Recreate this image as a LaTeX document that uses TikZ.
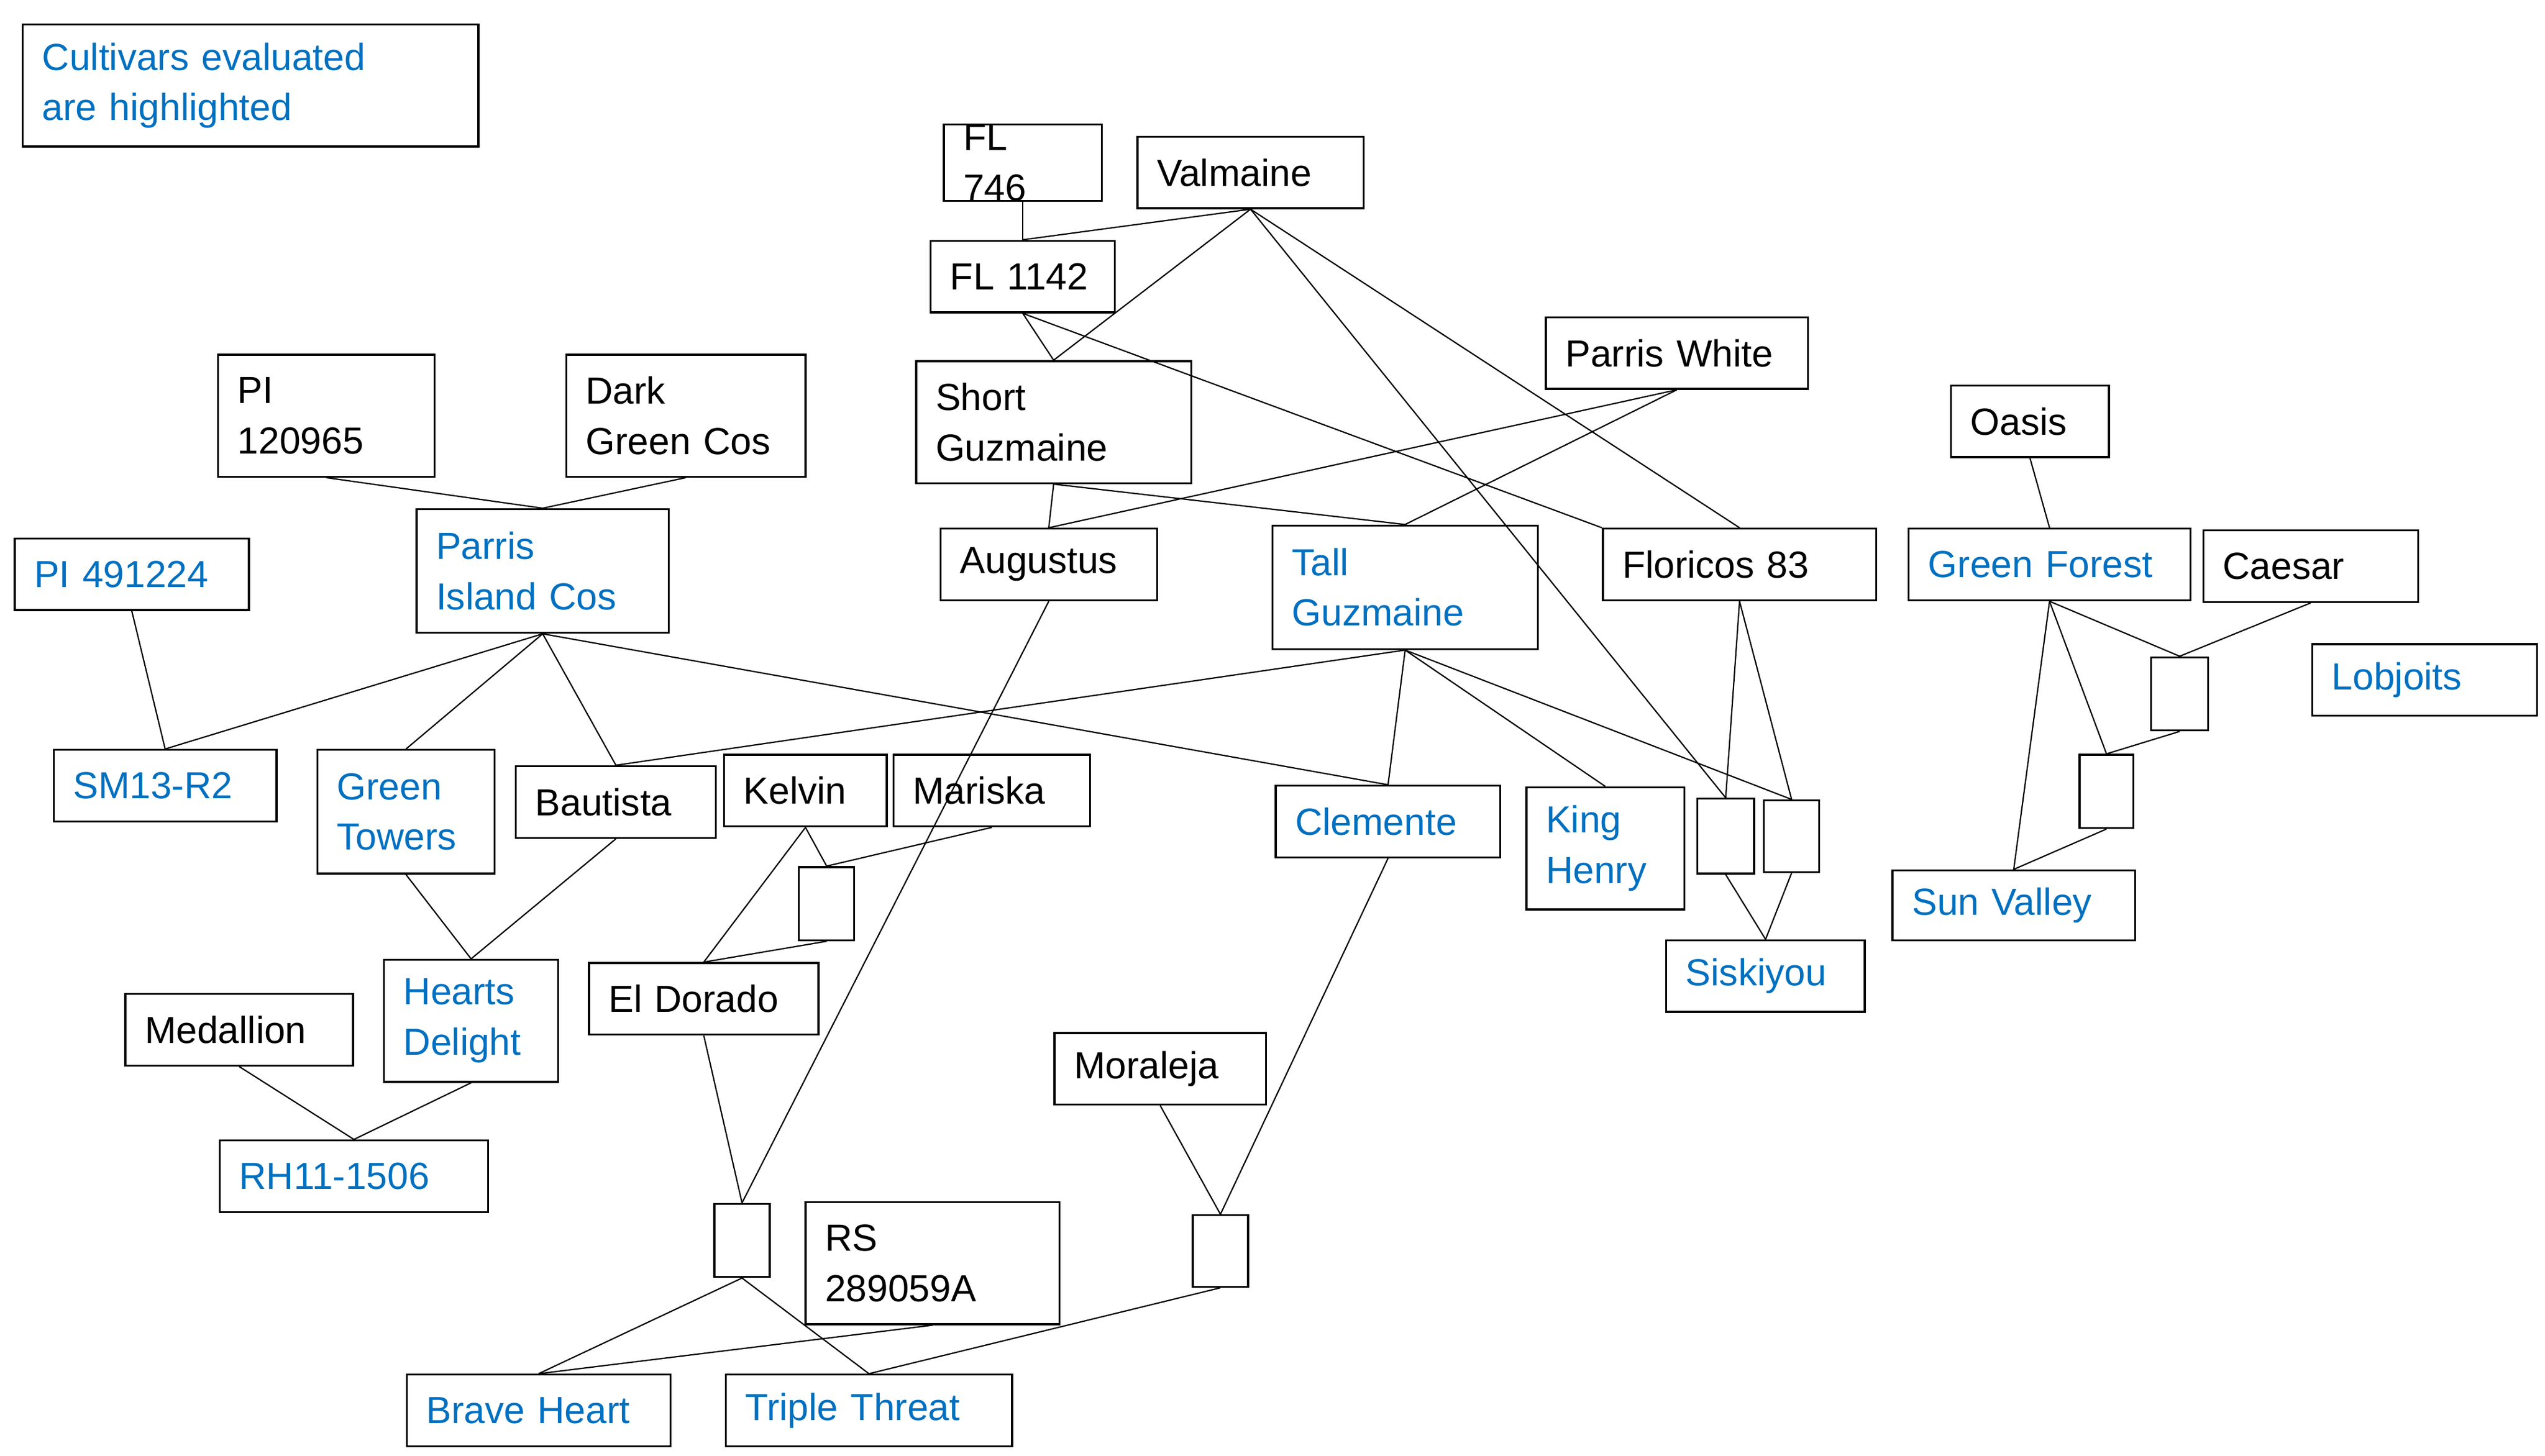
\documentclass[tikz,border=0pt]{standalone}
\usepackage{fontspec}
\setmainfont{Liberation Sans}
\definecolor{cblue}{HTML}{0070C0}
\tikzset{
 box/.style={draw=black,line width=0.6mm,rectangle,inner xsep=6mm,inner ysep=0mm,align=left,font=\fontsize{33}{44}\selectfont},
 ev/.style={text=cblue},
 nb/.style={text=black},
 con/.style={line width=0.4mm,draw=black}
}
\newcommand\bx[7]{%
 \pgfmathsetmacro\bw{(#4-#2)*0.5}\pgfmathsetmacro\bh{(#5-#3)*0.5}\pgfmathsetmacro\tw{max(1,(#4-#2)*0.5-12)}%
 \node[box,#7,minimum width=\bw mm,minimum height=\bh mm,text width=\tw mm] (#1) at ({(#2+#4)/2},{(#3+#5)/2}) {#6};}
\begin{document}
\begin{tikzpicture}[x=0.5mm,y=-0.5mm]
\useasboundingbox (0,0) rectangle (1564,895);
\bx{leg}{14}{15}{294}{90}{Cultivars evaluated\\are highlighted}{ev}
\bx{fl746}{580}{78}{677}{122}{FL 746}{nb}
\bx{val}{699}{84}{838}{128}{Valmaine}{nb}
\bx{fl1142}{572}{148}{685}{192}{FL 1142}{nb}
\bx{sg}{563}{222}{732}{297}{Short\\Guzmaine}{nb}
\bx{pw}{950}{195}{1111}{239}{Parris White}{nb}
\bx{pi12}{134}{218}{267}{293}{PI\\120965}{nb}
\bx{dgc}{348}{218}{495}{293}{Dark\\Green Cos}{nb}
\bx{pic}{256}{313}{411}{389}{Parris\\Island Cos}{ev}
\bx{pi49}{9}{331}{153}{375}{PI 491224}{ev}
\bx{aug}{578}{325}{711}{369}{Augustus}{nb}
\bx{tg}{782}{323}{945}{399}{Tall\\Guzmaine}{ev}
\bx{flo}{985}{325}{1153}{369}{Floricos 83}{nb}
\bx{oas}{1199}{237}{1296}{281}{Oasis}{nb}
\bx{gf}{1173}{325}{1346}{369}{Green Forest}{ev}
\bx{cae}{1354}{326}{1486}{370}{Caesar}{nb}
\bx{lob}{1421}{396}{1559}{440}{Lobjoits}{ev}
\bx{sm}{33}{461}{170}{505}{SM13-R2}{ev}
\bx{gt}{195}{461}{304}{537}{Green\\Towers}{ev}
\bx{bau}{317}{471}{440}{515}{Bautista}{nb}
\bx{kel}{445}{464}{545}{508}{Kelvin}{nb}
\bx{mar}{549}{464}{670}{508}{Mariska}{nb}
\bx{cle}{784}{483}{922}{527}{Clemente}{ev}
\bx{kh}{938}{484}{1035}{559}{King\\Henry}{ev}
\bx{s1}{1043}{491}{1078}{537}{}{nb}
\bx{s2}{1084}{492}{1118}{536}{}{nb}
\bx{sis}{1024}{578}{1146}{622}{Siskiyou}{ev}
\bx{s3}{1322}{404}{1357}{449}{}{nb}
\bx{s4}{1278}{464}{1311}{509}{}{nb}
\bx{sv}{1163}{535}{1312}{578}{Sun Valley}{ev}
\bx{s5}{491}{533}{525}{578}{}{nb}
\bx{eld}{362}{592}{503}{636}{El Dorado}{nb}
\bx{hd}{236}{590}{343}{665}{Hearts\\Delight}{ev}
\bx{med}{77}{611}{217}{655}{Medallion}{nb}
\bx{rh}{135}{701}{300}{745}{RH11-1506}{ev}
\bx{mor}{648}{635}{778}{679}{Moraleja}{nb}
\bx{s6}{439}{740}{473}{785}{}{nb}
\bx{rs}{495}{739}{651}{814}{RS\\289059A}{nb}
\bx{s7}{733}{747}{767}{791}{}{nb}
\bx{bh}{250}{845}{412}{889}{Brave Heart}{ev}
\bx{tt}{446}{845}{622}{889}{Triple Threat}{ev}
\begin{scope}[con]
\draw (fl746.south) -- (fl1142.north);
\draw (val.south) -- (fl1142.north);
\draw (val.south) -- (sg.north);
\draw (val.south) -- (flo.north);
\draw (val.south) -- (s1.north);
\draw (fl1142.south) -- (sg.north);
\draw (fl1142.south) -- (flo.north west);
\draw (pw.south) -- (aug.north);
\draw (pw.south) -- (tg.north);
\draw (sg.south) -- (aug.north);
\draw (sg.south) -- (tg.north);
\draw (pi12.south) -- (pic.north);
\draw (dgc.south) -- (pic.north);
\draw (pi49.south) -- (sm.north);
\draw (pic.south) -- (sm.north);
\draw (pic.south) -- (gt.north);
\draw (pic.south) -- (bau.north);
\draw (pic.south) -- (cle.north);
\draw (tg.south) -- (bau.north);
\draw (tg.south) -- (cle.north);
\draw (tg.south) -- (kh.north);
\draw (tg.south) -- (s2.north);
\draw (aug.south) -- (s6.north);
\draw (flo.south) -- (s1.north);
\draw (flo.south) -- (s2.north);
\draw (s1.south) -- (sis.north);
\draw (s2.south) -- (sis.north);
\draw (oas.south) -- (gf.north);
\draw (gf.south) -- (s3.north);
\draw (gf.south) -- (s4.north);
\draw (gf.south) -- (sv.north);
\draw (cae.south) -- (s3.north);
\draw (s3.south) -- (s4.north);
\draw (s4.south) -- (sv.north);
\draw (kel.south) -- (s5.north);
\draw (mar.south) -- (s5.north);
\draw (kel.south) -- (eld.north);
\draw (s5.south) -- (eld.north);
\draw (gt.south) -- (hd.north);
\draw (bau.south) -- (hd.north);
\draw (med.south) -- (rh.north);
\draw (hd.south) -- (rh.north);
\draw (eld.south) -- (s6.north);
\draw (cle.south) -- (s7.north);
\draw (mor.south) -- (s7.north);
\draw (s6.south) -- (bh.north);
\draw (s6.south) -- (tt.north);
\draw (rs.south) -- (bh.north);
\draw (s7.south) -- (tt.north);
\end{scope}
\end{tikzpicture}
\end{document}
